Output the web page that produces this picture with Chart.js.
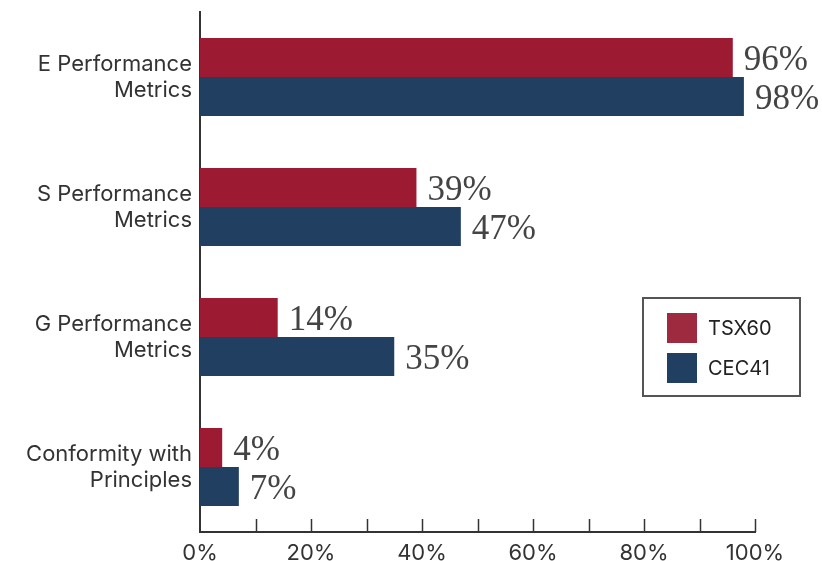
<!DOCTYPE html>
<html><head><meta charset="utf-8">
<script src="https://cdn.jsdelivr.net/npm/chart.js@4"></script>
<style>html,body{margin:0;padding:0;background:#fff}#wrap{width:822px;height:561px;position:relative}</style>
</head><body><div id="wrap"><canvas id="c"></canvas></div>
<script>
const categories = [["E Performance","Metrics"],["S Performance","Metrics"],["G Performance","Metrics"],["Conformity with","Principles"]];
const seriesNames = ["TSX60","CEC41"];
const tsx60 = [96,39,14,4];
const cec41 = [98,47,35,7];
const xTicks = [0,20,40,60,80,100];
const colors = ["#9c1b33","#213f61"];
const legendColors = ["#9e2a40","#213f61"];

const PL = 200, PR = 755, PT = 12, PB = 532, W = 822, H = 561;
const SANS = '"Inter", "Open Sans", sans-serif';

const labelPlugin = {
  id:'labels',
  afterDatasetsDraw(chart){
    const ctx = chart.ctx;
    ctx.save();
    ctx.font = '35px "Liberation Serif", "DejaVu Serif", serif';
    ctx.fillStyle = '#444';
    ctx.textBaseline = 'middle';
    ctx.textAlign = 'left';
    chart.data.datasets.forEach((ds,i)=>{
      chart.getDatasetMeta(i).data.forEach((bar,j)=>{
        ctx.fillText(ds.data[j]+'%', bar.x+11, bar.y+3);
      });
    });
    // axis ticks (pointing up) every 10%
    const xs = chart.scales.x;
    ctx.strokeStyle = '#333'; ctx.lineWidth = 1.5;
    for(let v=10; v<=100; v+=10){
      const px = Math.round(xs.getPixelForValue(v))+0.5;
      ctx.beginPath(); ctx.moveTo(px, xs.top-13); ctx.lineTo(px, xs.top); ctx.stroke();
    }
    // legend
    const bx=643, by=298, bw=157, bh=98;
    ctx.strokeStyle='#555'; ctx.lineWidth=2;
    ctx.strokeRect(bx,by,bw,bh);
    ctx.font = '20px ' + SANS;
    ctx.textBaseline='middle';
    chart.data.datasets.forEach((ds,i)=>{
      ctx.fillStyle = legendColors[i];
      ctx.fillRect(667, 313+i*40, 30, 30);
      ctx.fillStyle='#222';
      ctx.fillText(ds.label, 708, 328+i*40+1);
    });
    ctx.restore();
  }
};

new Chart(document.getElementById('c'), {
  type:'bar',
  data:{
    labels:categories,
    datasets:[
      {label:seriesNames[0], data:tsx60, backgroundColor:colors[0], barPercentage:1, categoryPercentage:0.6},
      {label:seriesNames[1], data:cec41, backgroundColor:colors[1], barPercentage:1, categoryPercentage:0.6}
    ]
  },
  options:{
    indexAxis:'y',
    responsive:true, maintainAspectRatio:false, animation:false,
    layout:{padding:{left:0,right:W-PR,top:PT,bottom:0}},
    plugins:{legend:{display:false}, tooltip:{enabled:false}},
    scales:{
      x:{
        min:0,max:100,
        afterFit(s){ s.height = H-PB; s.paddingLeft = 0; },
        afterBuildTicks(s){ s.ticks = xTicks.map(v=>({value:v})); },
        grid:{display:false, drawTicks:false},
        border:{display:true,color:'#333',width:2},
        ticks:{padding:8,color:'#333',font:{family:SANS,size:22},callback:v=>v+'%'}
      },
      y:{
        afterFit(s){ s.width = PL; s.paddingTop = 0; s.paddingBottom = 0; },
        grid:{display:false, drawTicks:false},
        border:{display:true,color:'#333',width:2},
        ticks:{padding:8,color:'#333',font:{family:SANS,size:22,lineHeight:1.18}}
      }
    }
  },
  plugins:[labelPlugin]
});
</script></body></html>
